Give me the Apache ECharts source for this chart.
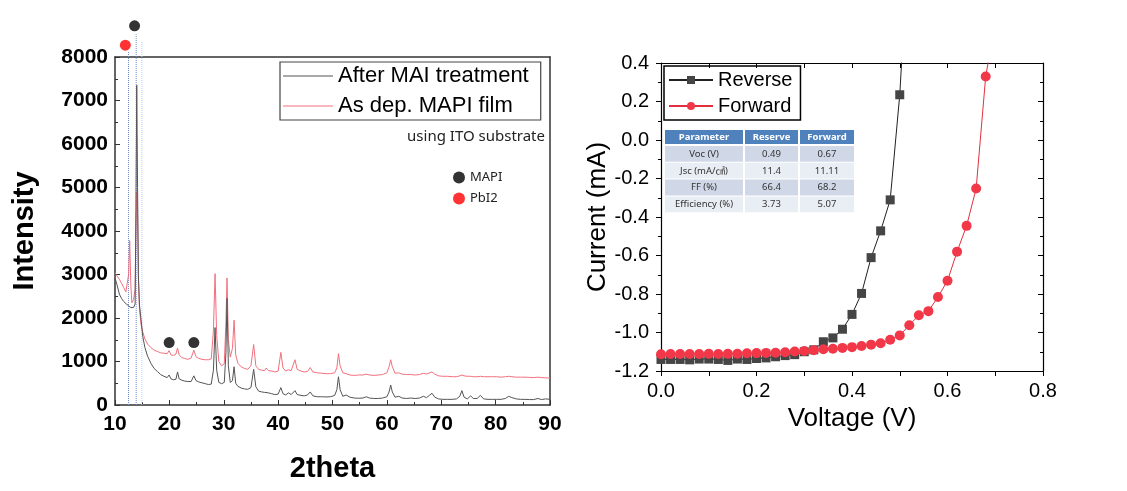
<!DOCTYPE html>
<html><head><meta charset="utf-8">
<script src="https://cdn.jsdelivr.net/npm/echarts@6/dist/echarts.min.js"></script>
<style>html,body{margin:0;padding:0;background:#fff}#c{width:1127px;height:491px}</style>
</head><body><div id="c"></div>
<script>
// ---------- XRD data (left panel) ----------
const theta = [10.0,10.4,10.8,11.2,11.6,12.0,12.3,12.5,12.7,12.9,13.1,13.4,13.7,13.85,14.0,14.15,14.3,14.5,14.8,15.1,15.5,16.0,16.6,17.2,17.8,18.4,19.0,19.6,19.95,20.3,20.8,21.2,21.5,21.8,22.3,22.8,23.4,24.0,24.5,24.9,25.4,26.0,26.6,27.2,27.7,28.1,28.4,28.7,29.1,29.6,30.1,30.4,30.6,30.85,31.2,31.6,31.9,32.2,32.6,33.2,33.8,34.4,35.0,35.5,35.9,36.4,37.0,37.5,37.8,38.2,38.8,39.4,40.0,40.5,40.9,41.4,41.9,42.4,43.1,43.5,44.2,44.8,45.4,45.9,46.4,47.2,48.0,48.8,49.6,50.4,50.8,51.1,51.4,51.9,52.5,53.2,54.0,54.8,55.6,56.2,56.8,57.6,58.4,59.2,60.0,60.4,60.7,61.0,61.5,62.2,62.8,63.6,64.4,65.2,66.0,66.7,67.3,67.9,68.3,68.8,69.5,70.3,71.2,72.0,72.8,73.4,73.8,74.2,74.8,75.4,75.9,76.6,77.2,77.8,78.6,79.4,80.2,81.0,81.8,82.4,83.0,83.8,84.6,85.4,86.2,87.0,87.8,88.4,89.2,90.0];
const afterMAI = [2920,2750,2550,2450,2380,2330,2300,2280,2260,2240,2220,2240,2320,4500,7350,5000,3000,2300,1950,1580,1320,1120,960,840,770,700,660,630,690,600,580,590,760,600,570,550,540,540,670,560,530,510,490,470,480,800,1780,800,520,490,520,1200,2450,900,520,560,880,500,430,390,370,360,400,820,420,320,300,290,330,280,260,240,250,400,260,230,280,240,330,240,220,210,230,300,210,190,190,185,190,220,350,650,350,200,230,180,160,155,160,190,160,150,150,160,190,300,460,300,180,200,160,150,160,150,160,200,170,230,270,180,140,130,130,130,140,200,330,180,140,210,150,150,220,140,130,130,130,130,150,200,170,140,130,130,125,125,150,125,140,130];
const asDep = [3040,2960,2890,2800,2700,2600,2560,3000,3780,2800,2350,2420,2650,4000,4900,4400,2900,2200,1850,1680,1520,1400,1320,1260,1230,1200,1190,1180,1250,1150,1140,1170,1310,1150,1090,1070,1050,1080,1260,1110,1070,1050,1040,1040,1060,1700,3020,1600,1000,900,950,1900,2920,1500,1100,1300,1950,1150,960,880,840,820,900,1390,900,820,800,790,850,790,780,760,780,1210,850,780,810,790,1040,820,780,760,770,860,760,740,730,720,720,740,850,1180,900,740,720,690,680,690,690,710,690,680,690,700,740,880,1040,880,730,740,710,700,700,690,700,730,710,740,760,710,670,660,660,650,650,670,690,670,660,660,650,650,660,650,650,650,650,640,650,660,650,640,640,640,635,630,640,630,625,620];
// phase markers
const mapiTheta = [13.6, 19.96, 24.5];
const mapiY = [8717, 1435, 1435];
const pbi2Theta = [11.9];
const pbi2Y = [8272];
// dotted guide lines [theta, top]
const guideTheta = [12.48, 13.9, 14.95];
const guideTop = [8140, 8525, 8370];

// ---------- J-V data (right panel) ----------
const revV = [0,0.02,0.04,0.06,0.08,0.10,0.12,0.14,0.16,0.18,0.20,0.22,0.24,0.26,0.28,0.30,0.32,0.34,0.36,0.38,0.40,0.42,0.44,0.46,0.48,0.50];
const revI = [-1.140,-1.140,-1.140,-1.142,-1.138,-1.138,-1.140,-1.145,-1.138,-1.140,-1.135,-1.132,-1.126,-1.120,-1.115,-1.100,-1.090,-1.048,-1.028,-0.983,-0.906,-0.797,-0.611,-0.472,-0.311,0.235];
const revExit = [0.505, 0.45];
const fwdV = [0,0.02,0.04,0.06,0.08,0.10,0.12,0.14,0.16,0.18,0.20,0.22,0.24,0.26,0.28,0.30,0.32,0.34,0.36,0.38,0.40,0.42,0.44,0.46,0.48,0.50,0.52,0.54,0.56,0.58,0.60,0.62,0.64,0.66,0.68];
const fwdI = [-1.113,-1.112,-1.112,-1.112,-1.112,-1.111,-1.112,-1.111,-1.110,-1.108,-1.107,-1.106,-1.105,-1.103,-1.099,-1.096,-1.092,-1.087,-1.084,-1.080,-1.076,-1.070,-1.063,-1.056,-1.038,-1.015,-0.962,-0.910,-0.889,-0.816,-0.731,-0.580,-0.446,-0.252,0.330];
const fwdExit = [0.6885, 0.45];

const tableHeader = ['Parameter','Reserve','Forward'];
const tableRows = [
  ['Voc (V)','0.49','0.67'],
  ['Jsc (mA/㎠)','11.4','11.11'],
  ['FF (%)','66.4','68.2'],
  ['Efficiency (%)','3.73','5.07']
];
const noteText = 'using ITO substrate';

// ---------- build ----------
const zip = (a,b) => a.map((v,i)=>[v,b[i]]);
const AR = "'Liberation Sans', Arial, sans-serif";
const KR = "'Noto Sans', 'Noto Sans CJK KR', sans-serif";

// table graphics
const colX = [665, 745, 800], colW = [78, 53, 54];
const tg = [];
tableHeader.forEach((h,j)=>{
  tg.push({type:'rect', shape:{x:colX[j], y:130, width:colW[j], height:14}, style:{fill:'#4f81bd'}});
  tg.push({type:'text', x:colX[j]+colW[j]/2, y:137, style:{text:h, fill:'#fff', font:'bold 9.5px '+KR, textAlign:'center', textVerticalAlign:'middle'}});
});
tableRows.forEach((r,i)=>{
  const y = 146 + i*16.8;
  r.forEach((c,j)=>{
    tg.push({type:'rect', shape:{x:colX[j], y:y, width:colW[j], height:15.8}, style:{fill: i%2===0 ? '#d0d8e8' : '#e9edf4'}});
    tg.push({type:'text', x:colX[j]+colW[j]/2, y:y+8, style:{text:c, fill:'#333', font:'9.5px '+KR, textAlign:'center', textVerticalAlign:'middle'}});
  });
});

const guideSeries = guideTheta.map((t,i)=>({
  type:'line', xAxisIndex:0, yAxisIndex:0, data:[[t,0],[t,guideTop[i]]], symbol:'none', clip:false, silent:true, z:1,
  lineStyle:{type:'dotted', width:1, color: i===2 ? '#b8cde8' : '#6f8cc4'}
}));

const option = {
  animation:false,
  backgroundColor:'#fff',
  grid:[
    {left:115, right:577, top:57, bottom:86},
    {left:661, right:84, top:63, bottom:120}
  ],
  xAxis:[
    {gridIndex:0, type:'value', min:10, max:90, interval:10, name:'2theta', nameLocation:'middle', nameGap:49,
     nameTextStyle:{fontFamily:AR, fontWeight:'bold', fontSize:29, color:'#000'},
     axisLine:{onZero:false, lineStyle:{color:'#333', width:1.5}}, axisTick:{inside:true, length:5, lineStyle:{color:'#333'}},
     minorTick:{show:true, splitNumber:2, length:3, lineStyle:{color:'#333'}},
     axisLabel:{fontFamily:AR, fontWeight:'bold', fontSize:21, color:'#000', margin:9, formatter:v=>String(v)}, splitLine:{show:false}},
    {gridIndex:0, type:'value', position:'top', min:10, max:90, interval:10,
     axisLine:{onZero:false, lineStyle:{color:'#333', width:1.5}}, axisTick:{show:false}, axisLabel:{show:false}, splitLine:{show:false}},
    {gridIndex:1, type:'value', min:0, max:0.8, interval:0.2, name:'Voltage (V)', nameLocation:'middle', nameGap:35,
     nameTextStyle:{fontFamily:AR, fontSize:26, color:'#000'},
     axisLine:{onZero:false, lineStyle:{color:'#000', width:1.2}}, axisTick:{inside:false, length:5, lineStyle:{color:'#000'}},
     minorTick:{show:true, splitNumber:2, length:5, lineStyle:{color:'#000'}},
     axisLabel:{fontFamily:AR, fontSize:20, color:'#000', margin:10, formatter:v=>v.toFixed(1)}, splitLine:{show:false}},
    {gridIndex:1, type:'value', position:'top', min:0, max:0.8, interval:0.2,
     axisLine:{onZero:false, lineStyle:{color:'#000', width:1.2}}, axisTick:{inside:true, length:5, lineStyle:{color:'#000'}},
     minorTick:{show:true, splitNumber:2, length:5, lineStyle:{color:'#000'}},
     axisLabel:{show:false}, splitLine:{show:false}}
  ],
  yAxis:[
    {gridIndex:0, type:'value', min:0, max:8000, interval:1000, name:'Intensity', nameLocation:'middle', nameGap:76,
     nameTextStyle:{fontFamily:AR, fontWeight:'bold', fontSize:29, color:'#000'},
     axisLine:{show:true, onZero:false, lineStyle:{color:'#333', width:1.5}}, axisTick:{show:true, inside:true, length:5, lineStyle:{color:'#333'}},
     minorTick:{show:true, splitNumber:2, length:3, lineStyle:{color:'#333'}},
     axisLabel:{fontFamily:AR, fontWeight:'bold', fontSize:21, color:'#000', margin:7, formatter:v=>String(v)}, splitLine:{show:false}},
    {gridIndex:0, type:'value', position:'right', min:0, max:8000, interval:1000,
     axisLine:{show:true, onZero:false, lineStyle:{color:'#333', width:1.5}}, axisTick:{show:false}, axisLabel:{show:false}, splitLine:{show:false}},
    {gridIndex:1, type:'value', min:-1.2, max:0.4, interval:0.2, name:'Current (mA)', nameLocation:'middle', nameGap:50,
     nameTextStyle:{fontFamily:AR, fontSize:26, color:'#000'},
     axisLine:{show:true, onZero:false, lineStyle:{color:'#000', width:1.2}}, axisTick:{show:true, inside:false, length:5, lineStyle:{color:'#000'}},
     minorTick:{show:true, splitNumber:2, length:3, lineStyle:{color:'#000'}},
     axisLabel:{fontFamily:AR, fontSize:20, color:'#000', margin:12, formatter:v=>v.toFixed(1)}, splitLine:{show:false}},
    {gridIndex:1, type:'value', position:'right', min:-1.2, max:0.4, interval:0.2,
     axisLine:{show:true, onZero:false, lineStyle:{color:'#000', width:1.2}}, axisTick:{show:true, inside:true, length:5, lineStyle:{color:'#000'}},
     minorTick:{show:true, splitNumber:2, length:3, lineStyle:{color:'#000'}},
     axisLabel:{show:false}, splitLine:{show:false}}
  ],
  legend:[
    {data:[{name:'After MAI treatment', icon:'rect'},{name:'As dep. MAPI film', icon:'rect'}], left:280, top:62, orient:'vertical', itemGap:8, itemWidth:50, itemHeight:1.2,
     padding:[3,12,3,3], borderColor:'#444', borderWidth:1.2, textStyle:{fontFamily:AR, fontSize:22, color:'#000'}},
    {data:['MAPI','PbI2'], left:448, top:166, orient:'vertical', itemGap:8, itemWidth:12, itemHeight:12, icon:'circle',
     textStyle:{fontFamily:KR, fontSize:13, color:'#222'}},
    {data:['Reverse','Forward'], left:664, top:66, orient:'vertical', itemGap:6, itemWidth:44, itemHeight:10,
     padding:[4,8,4,4], borderColor:'#000', borderWidth:1.5, textStyle:{fontFamily:AR, fontSize:20, color:'#000'}}
  ],
  graphic:[
    {type:'text', x:545, y:137, style:{text:noteText, font:'15px '+KR, fill:'#222', textAlign:'right', textVerticalAlign:'middle'}},
    {type:'group', children:tg}
  ],
  series:[
    ...guideSeries,
    {name:'As dep. MAPI film', type:'line', xAxisIndex:0, yAxisIndex:0, data:zip(theta, asDep), symbol:'none',
     lineStyle:{color:'#f2707e', width:1}, itemStyle:{color:'#f2707e'}, z:3},
    {name:'After MAI treatment', type:'line', xAxisIndex:0, yAxisIndex:0, data:zip(theta, afterMAI), symbol:'none',
     lineStyle:{color:'#555', width:1}, itemStyle:{color:'#555'}, z:4},
    {name:'MAPI', type:'scatter', xAxisIndex:0, yAxisIndex:0, data:zip(mapiTheta, mapiY), symbolSize:11, clip:false,
     itemStyle:{color:'#000'}, z:5},
    {name:'PbI2', type:'scatter', xAxisIndex:0, yAxisIndex:0, data:zip(pbi2Theta, pbi2Y), symbolSize:11, clip:false,
     itemStyle:{color:'#f00'}, z:5},
    {name:'Reverse', type:'line', xAxisIndex:2, yAxisIndex:2,
     data:[...zip(revV, revI), {value:revExit, symbol:'none'}], symbol:'rect', symbolSize:9,
     lineStyle:{color:'#222', width:1}, itemStyle:{color:'#454545'}, z:4},
    {name:'Forward', type:'line', xAxisIndex:2, yAxisIndex:2,
     data:[...zip(fwdV, fwdI), {value:fwdExit, symbol:'none'}], symbol:'circle', symbolSize:10,
     lineStyle:{color:'#e03040', width:1}, itemStyle:{color:'#f23848'}, z:5}
  ]
};
const chart = echarts.init(document.getElementById('c'), null, {renderer:'canvas'});
chart.setOption(option);
</script>
</body></html>
